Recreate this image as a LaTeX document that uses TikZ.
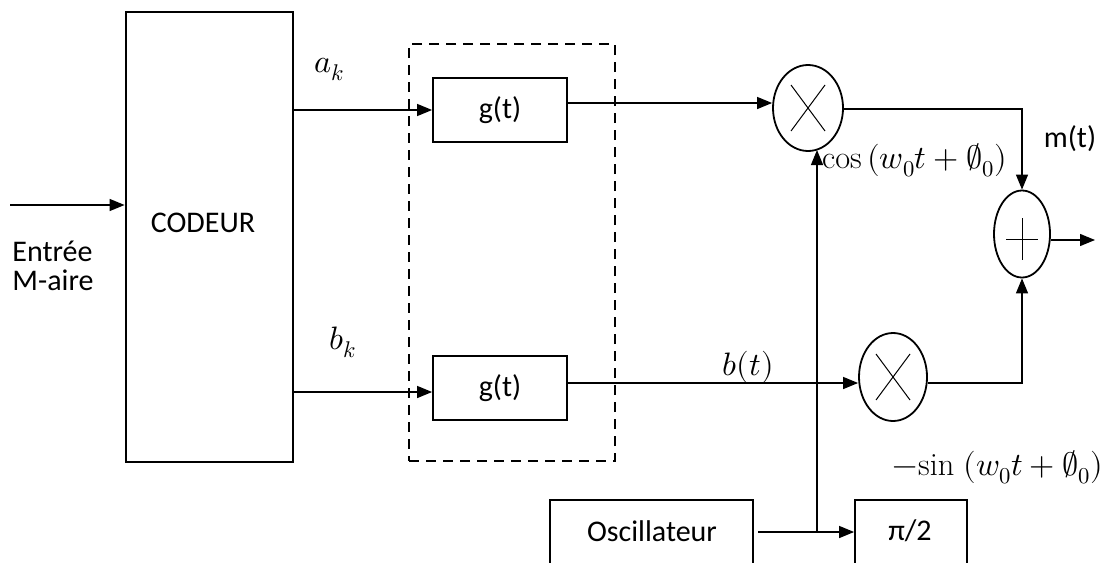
\documentclass[tikz,border=0pt]{standalone}
\usepackage{fontspec}
\usepackage{unicode-math}
\setmainfont{Carlito}
\setmathfont{Latin Modern Math}[Scale=1.08]
\newfontfamily\lmrfont{Latin Modern Roman}[Scale=1.08]
\usetikzlibrary{arrows.meta,shapes.geometric}
\newcommand{\ucos}{\mathop{\mbox{\lmrfont cos}}\nolimits}
\newcommand{\usin}{\mbox{\lmrfont sin}}
\begin{document}
\begin{tikzpicture}[x=1pt,y=-1pt,
  lbl/.style={font=\fontsize{30}{29}\selectfont, inner sep=0pt},
  box/.style={draw, line width=1.8pt, inner sep=0pt, font=\fontsize{30}{29}\selectfont},
  arr/.style={line width=1.3pt, -{Triangle[length=15pt,width=12pt]}},
  wire/.style={line width=1.3pt},
  mult/.style={draw, ellipse, line width=1.8pt, inner sep=0pt},
  cross/.style={line width=1pt}
]
\useasboundingbox (0,0) rectangle (1107,562);
% codeur
\node[box, line width=2.8pt, minimum width=167pt, minimum height=450pt] (cod) at (209.5,237) {};
\node[lbl] (codl) at (203,223) {CODEUR};
% input
\coordinate (inp) at (10,205);
\draw[arr] (inp) -- (inp -| cod.west);
\node[lbl, align=left] (entree) at (53,266) {Entrée\\M-aire};
% dashed box
\node[draw, line width=1.8pt, dash pattern=on 10pt off 7pt, minimum width=206pt, minimum height=417pt, inner sep=0pt] (dash) at (512,252.5) {};
% g(t) boxes
\node[box, minimum width=134pt, minimum height=64pt] (g1) at (500,110) {g(t)};
\node[box, minimum width=134pt, minimum height=64pt] (g2) at (500,388) {g(t)};
\node[lbl] (ak) at (329,69) {$a_k$};
\node[lbl] (bk) at (343,342) {$b_k$};
\draw[arr] (cod.east |- g1.west) -- (g1.west);
\draw[arr] ([yshift=-4pt]g2.west -| cod.east) -- ([yshift=-4pt]g2.west);
% multipliers
\node[mult, minimum width=70pt, minimum height=86pt] (m1) at (808,108) {};
\draw[cross] ([shift={(-17,-23)}]m1.center) -- ([shift={(17,23)}]m1.center);
\draw[cross] ([shift={(17,-23)}]m1.center) -- ([shift={(-17,23)}]m1.center);
\node[mult, minimum width=68pt, minimum height=88pt] (m2) at (893,377) {};
\draw[cross] ([shift={(-17,-23)}]m2.center) -- ([shift={(17,23)}]m2.center);
\draw[cross] ([shift={(17,-23)}]m2.center) -- ([shift={(-17,23)}]m2.center);
% adder
\node[mult, minimum width=56pt, minimum height=87pt] (add) at (1022,234) {};
\draw[cross] ([shift={(-16,5)}]add.center) -- ([shift={(16,5)}]add.center);
\draw[cross] ([shift={(0,-16)}]add.center) -- ([shift={(0,26)}]add.center);
% connections
\draw[arr] ([yshift=7pt]g1.east) -- ([yshift=5pt]m1.west);
\draw[arr] ([yshift=5pt]g2.east) -- ([yshift=-6pt]m2.west);
\draw[arr] ([yshift=-1pt]m1.east) -| (add.north);
\draw[arr] ([yshift=-6pt]m2.east) -| (add.south);
\coordinate (aout) at (1095,240);
\draw[arr] (add.east |- aout) -- (aout);
\node[lbl] (bt) at (748,367) {$b(t)$};
\node[lbl] (mt) at (1070,139) {m(t)};
\node[lbl, anchor=west] (cosl) at (822,160) {$\ucos\,(w_0t+\emptyset_0)$};
\node[lbl] (sinl) at (998,467) {$-\usin\;(w_0t+\emptyset_0)$};
% oscillator and pi/2
\node[box, minimum width=203pt, minimum height=120pt, anchor=north] (oscbox) at (651.5,499) {};
\node[lbl] (osc) at (652,531) {Oscillateur};
\node[box, minimum width=112pt, minimum height=120pt, anchor=north] (pibox) at (911,499) {};
\node[lbl] (pi) at (910,531) {π/2};
\coordinate (ostart) at (758,532);
\coordinate (j) at (817,532);
\coordinate (jtop) at (817,150);
\draw[arr] (ostart) -- (ostart -| pibox.west);
\draw[arr] (j) -- (jtop);
\end{tikzpicture}
\end{document}
